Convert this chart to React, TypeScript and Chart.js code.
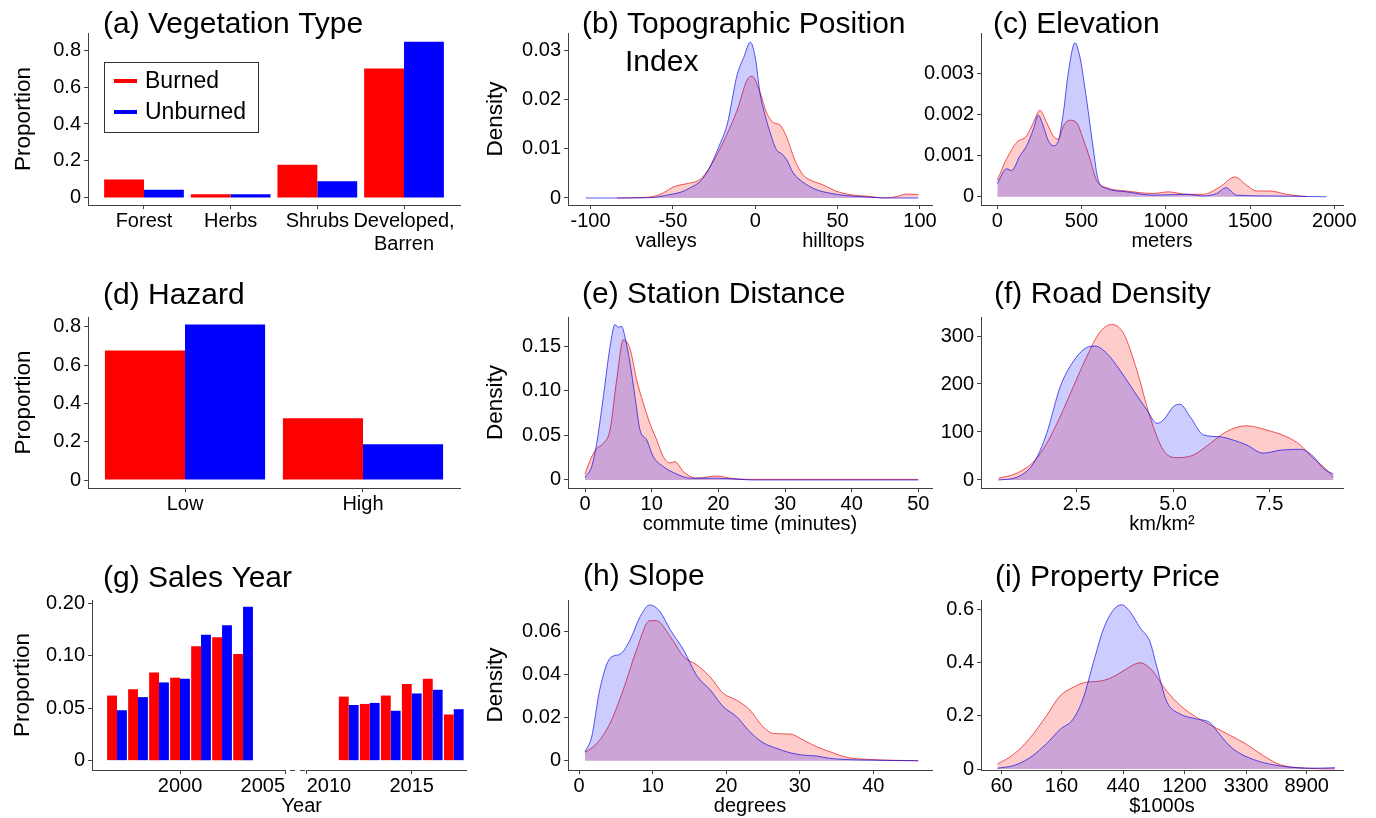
import React, { useEffect, useRef } from "react";
import { Chart, registerables } from "chart.js";

Chart.register(...registerables);

const FONT = "'Liberation Sans', Arial, Helvetica, sans-serif";
Chart.defaults.font.family = FONT;
Chart.defaults.color = "#000";

// ---------------- data ----------------
// (a) Vegetation type
const vegCategories: any[] = ["Forest", "Herbs", "Shrubs", ["Developed,", "Barren"]];
const vegBurned = [0.1, 0.02, 0.18, 0.7];
const vegUnburned = [0.045, 0.02, 0.09, 0.845];
const proportionTicks = [0, 0.2, 0.4, 0.6, 0.8];
const proportionTickLabels = ["0", "0.2", "0.4", "0.6", "0.8"];

// (b) Topographic position index
const tpiBurnedX = [-84, -70, -62, -56, -50, -45, -40, -33, -25, -17, -11, -5, -2, 3, 7, 11, 15, 19, 24, 29, 35, 41, 49, 57, 70, 78, 86, 92, 99];
const tpiBurnedY = [0, 0.0001, 0.0003, 0.001, 0.0022, 0.0027, 0.003, 0.0039, 0.0077, 0.0131, 0.0178, 0.0239, 0.0247, 0.0213, 0.0172, 0.0153, 0.0148, 0.0124, 0.0077, 0.0047, 0.0034, 0.0027, 0.0014, 0.0007, 0.0003, 0, 0.0003, 0.0008, 0.0007];
const tpiUnburnedX = [-103, -75, -62, -55, -50, -45, -40, -33, -28, -22, -17, -11, -7, -3, 0, 3, 5, 9, 13, 16, 19, 23, 29, 37, 45, 55, 68, 80, 99];
const tpiUnburnedY = [0, 0, 0.0001, 0.0005, 0.0008, 0.0012, 0.002, 0.0035, 0.006, 0.0105, 0.015, 0.025, 0.0285, 0.0316, 0.0285, 0.021, 0.018, 0.0133, 0.0097, 0.009, 0.0078, 0.0051, 0.0032, 0.0017, 0.001, 0.0005, 0.0002, 0, 0];
const tpiXTicks = [-100, -50, 0, 50, 100];
const tpiXTickLabels = ["-100", "-50", "0", "50", "100"];
const tpiYTicks = [0, 0.01, 0.02, 0.03];
const tpiYTickLabels = ["0", "0.01", "0.02", "0.03"];

// (c) Elevation
const elevBurnedX = [0, 55, 115, 174, 214, 253, 293, 332, 362, 392, 431, 471, 510, 550, 589, 649, 767, 926, 1015, 1124, 1222, 1321, 1410, 1480, 1539, 1618, 1717, 1836];
const elevBurnedY = [0.0004, 0.00092, 0.00132, 0.00148, 0.0018, 0.0021, 0.0018, 0.00148, 0.0014, 0.00172, 0.00186, 0.0018, 0.0014, 0.00092, 0.0004, 0.00022, 0.00014, 0.00008, 0.00012, 0.00006, 0.00006, 0.00024, 0.00048, 0.00028, 0.00014, 0.00014, 0.00006, 0];
const elevUnburnedX = [0, 55, 85, 135, 174, 214, 243, 273, 303, 332, 362, 392, 421, 461, 490, 530, 570, 599, 649, 767, 926, 1124, 1222, 1301, 1357, 1420, 1618, 1954];
const elevUnburnedY = [0.00032, 0.00068, 0.00064, 0.001, 0.00124, 0.00164, 0.00198, 0.00172, 0.00136, 0.00124, 0.00136, 0.00204, 0.003, 0.00374, 0.0034, 0.00236, 0.00116, 0.0004, 0.0002, 0.00012, 0.00004, 0.00006, 0.00002, 0.00008, 0.00022, 0.00004, 0.00002, 0];
const elevXTicks = [0, 500, 1000, 1500, 2000];
const elevXTickLabels = ["0", "500", "1000", "1500", "2000"];
const elevYTicks = [0, 0.001, 0.002, 0.003];
const elevYTickLabels = ["0", "0.001", "0.002", "0.003"];

// (d) Hazard
const hazardCategories = ["Low", "High"];
const hazardBurned = [0.677, 0.323];
const hazardUnburned = [0.813, 0.187];

// (e) Station distance
const stationBurnedX = [0, 1, 1.75, 2.75, 3.75, 4.75, 5.75, 6.75, 7.75, 8.75, 9.75, 10.75, 11.75, 12.75, 13.5, 14.75, 16.75, 19.75, 21.75, 24.25, 43.25, 50];
const stationBurnedY = [0.0067, 0.026, 0.035, 0.041, 0.056, 0.112, 0.157, 0.147, 0.112, 0.086, 0.063, 0.045, 0.026, 0.019, 0.0205, 0.0093, 0.002, 0.0045, 0.002, 0.0007, 0.0007, 0.0007];
const stationUnburnedX = [0, 1, 1.75, 2.75, 3.75, 4.5, 5, 5.5, 6, 6.75, 7.5, 8.25, 9.25, 10.25, 11.75, 13.75, 15.75, 19.75, 22.75, 25, 50];
const stationUnburnedY = [0.003, 0.015, 0.041, 0.093, 0.149, 0.174, 0.171, 0.172, 0.16, 0.131, 0.093, 0.056, 0.045, 0.026, 0.015, 0.0067, 0.002, 0.002, 0.001, 0, 0];
const stationXTicks = [0, 10, 20, 30, 40, 50];
const stationXTickLabels = ["0", "10", "20", "30", "40", "50"];
const stationYTicks = [0, 0.05, 0.1, 0.15];
const stationYTickLabels = ["0", "0.05", "0.10", "0.15"];

// (f) Road density
const roadBurnedX = [0.47, 0.94, 1.38, 1.72, 2.07, 2.41, 2.76, 3.11, 3.41, 3.71, 4.06, 4.4, 4.75, 5.1, 5.53, 5.96, 6.39, 6.91, 7.43, 7.95, 8.3, 8.64, 8.9, 9.16];
const roadBurnedY = [3.5, 14, 38, 76, 132, 194, 257, 309, 324, 306, 229, 132, 62, 46.5, 52, 76, 101, 113, 104, 90, 73, 45, 28, 5.5];
const roadUnburnedX = [0.47, 0.94, 1.38, 1.72, 2.07, 2.41, 2.76, 2.98, 3.28, 3.62, 3.97, 4.32, 4.58, 4.75, 5.01, 5.18, 5.44, 5.79, 6.22, 6.57, 6.91, 7.34, 7.78, 8.3, 8.64, 8.9, 9.16];
const roadUnburnedY = [0, 5.5, 35, 97, 194, 247, 276, 279, 264, 229, 187, 146, 118, 125, 153, 158, 132, 94, 90, 83, 73, 56, 62, 64, 49, 24, 12.5];
const roadXTicks = [2.5, 5, 7.5];
const roadXTickLabels = ["2.5", "5.0", "7.5"];
const roadYTicks = [0, 100, 200, 300];
const roadYTickLabels = ["0", "100", "200", "300"];

// (g) Sales year
const salesYears = [1997, 1998, 1999, 2000, 2001, 2002, 2003, 2012, 2013, 2014, 2015, 2016, 2017];
const salesBurned = [0.062, 0.068, 0.084, 0.079, 0.109, 0.1175, 0.1015, 0.061, 0.054, 0.062, 0.073, 0.078, 0.044];
const salesUnburned = [0.048, 0.0605, 0.0745, 0.078, 0.12, 0.129, 0.1465, 0.053, 0.055, 0.0475, 0.064, 0.0675, 0.049];
const salesXTickYears = [2000, 2005, 2010, 2015];
const salesXTickLabels = ["2000", "2005        ", "        2010", "2015"];
const salesYTicks = [0, 0.05, 0.1, 0.15];
const salesYTickLabels = ["0", "0.05", "0.10", "0.20"];

// (h) Slope
const slopeBurnedX = [0.8, 2.4, 4.2, 6, 7.8, 9.6, 10.5, 12.4, 14.2, 16, 17.8, 19.6, 21.4, 23.2, 25, 26.4, 28.7, 30.5, 32.3, 34.1, 36.4, 39.5, 46.1];
const slopeBurnedY = [0.0039, 0.008, 0.0174, 0.033, 0.0515, 0.0651, 0.0651, 0.0577, 0.0484, 0.0445, 0.039, 0.0313, 0.0282, 0.0236, 0.0158, 0.0127, 0.0124, 0.0096, 0.0065, 0.0042, 0.0016, 0.0006, 0];
const slopeUnburnedX = [0.8, 1.7, 2.8, 4.2, 5.6, 6.9, 8.3, 9.6, 11, 12.4, 14.2, 16, 17.8, 19.6, 21.4, 23.2, 25, 26.9, 28.7, 30.5, 32.3, 34.1, 39.5, 46.1];
const slopeUnburnedY = [0.0042, 0.011, 0.033, 0.0476, 0.0496, 0.056, 0.067, 0.0724, 0.0693, 0.0608, 0.0515, 0.0395, 0.033, 0.0251, 0.0205, 0.0135, 0.0084, 0.0057, 0.0037, 0.0026, 0.0022, 0.0011, 0.0003, 0];
const slopeXTicks = [0, 10, 20, 30, 40];
const slopeXTickLabels = ["0", "10", "20", "30", "40"];
const slopeYTicks = [0, 0.02, 0.04, 0.06];
const slopeYTickLabels = ["0", "0.02", "0.04", "0.06"];

// (i) Property price ($1000s, log axis)
const priceBurnedX = [56, 73, 95, 125, 156, 194, 239, 298, 351, 433, 510, 575, 683, 898, 1115, 1465, 1905, 2500, 3275, 4410, 5780, 8900, 14150];
const priceBurnedY = [0.0185, 0.055, 0.115, 0.2, 0.274, 0.307, 0.326, 0.33, 0.34, 0.366, 0.389, 0.399, 0.379, 0.293, 0.24, 0.194, 0.161, 0.128, 0.095, 0.049, 0.016, 0.003, 0];
const priceUnburnedX = [56, 73, 95, 125, 156, 194, 229, 270, 318, 374, 429, 492, 580, 683, 762, 898, 1115, 1465, 1825, 2150, 2675, 3710, 5150, 7550, 9900, 14150];
const priceUnburnedY = [0.003, 0.013, 0.042, 0.095, 0.148, 0.188, 0.267, 0.4, 0.525, 0.597, 0.617, 0.591, 0.531, 0.478, 0.386, 0.254, 0.207, 0.188, 0.174, 0.128, 0.075, 0.036, 0.016, 0.005, 0.003, 0.005];
const priceXTicks = [60, 160, 440, 1200, 3300, 8900];
const priceXTickLabels = ["60", "160", "440", "1200", "3300", "8900"];
const priceYTicks = [0, 0.2, 0.4, 0.6];
const priceYTickLabels = ["0", "0.2", "0.4", "0.6"];

// ---------------- styles ----------------
const RED = "#FF0000";
const BLUE = "#0000FF";
const RED_FILL = "rgba(255,0,0,0.2)";
const BLUE_FILL = "rgba(0,0,255,0.2)";
const RED_LINE = "rgba(230,0,0,0.65)";
const BLUE_LINE = "rgba(0,0,230,0.65)";
const AXIS = "#404040";
const TITLE_SIZE = 30;
const TICK_SIZE = 20;
const XTITLE_SIZE = 20;
const YTITLE_SIZE = 22.5;
const LEGEND_SIZE = 23;
const X_AXIS_H = 48;

// axis break for sales year: 2005 and 2010 sit next to each other
const BREAK_SHIFT = 3.97;
const yearPos = (yr: number) => (yr <= 2005 ? yr : yr - BREAK_SHIFT);

const COLS = [{ x: 0, w: 470 }, { x: 470, w: 470 }, { x: 915, w: 461 }];
const ROWS = [{ y: 0, h: 270 }, { y: 270, h: 280 }, { y: 550, h: 268 }];

function axis(o: any) {
  return {
    type: o.type || "linear",
    min: o.min,
    max: o.max,
    bounds: "data",
    offset: false,
    grid: { display: true, drawOnChartArea: false, drawTicks: true, tickLength: 4, color: AXIS, lineWidth: 1, offset: false },
    border: { display: o.border !== false, color: AXIS, width: 1 },
    afterBuildTicks: (s: any) => {
      s.ticks = o.ticks.map((v: number) => ({ value: v }));
    },
    afterFit: (s: any) => {
      if (o.horizontal) s.height = o.size;
      else s.width = o.size;
    },
    ticks: {
      autoSkip: false,
      maxRotation: 0,
      minRotation: 0,
      padding: o.horizontal ? 1.5 : 3,
      color: "#000",
      font: { size: TICK_SIZE, lineHeight: 1.12 },
      callback: (_v: any, i: number) => o.labels[i],
    },
    title: o.title
      ? {
          display: true,
          text: o.title,
          color: "#000",
          font: { size: o.horizontal ? XTITLE_SIZE : YTITLE_SIZE },
          padding: { top: o.titlePad || 0, bottom: 0 },
        }
      : { display: false },
  };
}

function baseOptions(box: any, area: any, scales: any) {
  return {
    responsive: false,
    maintainAspectRatio: false,
    animation: false,
    events: [],
    layout: {
      padding: {
        left: 0,
        top: area.t - box.y,
        right: box.x + box.w - area.r,
        bottom: box.y + box.h - area.b - X_AXIS_H,
      },
    },
    plugins: { legend: { display: false }, tooltip: { enabled: false }, title: { display: false } },
    scales,
  };
}

const bars = (label: string, xs: number[], ys: number[], color: string, pct: number) => ({
  label,
  data: xs.map((x, i) => ({ x, y: ys[i] })),
  backgroundColor: color,
  borderWidth: 0,
  categoryPercentage: pct,
  barPercentage: 1,
});

const dens = (label: string, xs: number[], ys: number[], line: string, fill: string, order: number) => ({
  label,
  data: xs.map((x, i) => ({ x, y: ys[i] })),
  borderColor: line,
  backgroundColor: fill,
  fill: "origin",
  borderWidth: 1,
  pointRadius: 0,
  cubicInterpolationMode: "monotone",
  order,
});

function decor(spec: any) {
  return {
    id: "decor",
    afterDraw(chart: any) {
      const { ctx, chartArea: a } = chart;
      ctx.save();
      ctx.fillStyle = "#000";
      ctx.textAlign = "left";
      ctx.textBaseline = "alphabetic";
      ctx.font = `${TITLE_SIZE}px ${FONT}`;
      spec.title.forEach((ln: any) => ctx.fillText(ln.text, a.left + ln.dx, a.top + ln.dy));
      if (spec.legend) {
        const L = spec.legend;
        ctx.strokeStyle = "#333";
        ctx.lineWidth = 1;
        ctx.strokeRect(Math.round(a.left + L.dx) + 0.5, Math.round(a.top + L.dy) + 0.5, L.w, L.h);
        ctx.font = `${LEGEND_SIZE}px ${FONT}`;
        ctx.textBaseline = "middle";
        chart.data.datasets.forEach((ds: any, i: number) => {
          const yy = a.top + L.rows[i];
          ctx.strokeStyle = ds.backgroundColor;
          ctx.lineWidth = 4;
          ctx.beginPath();
          ctx.moveTo(a.left + L.lineX0, yy);
          ctx.lineTo(a.left + L.lineX1, yy);
          ctx.stroke();
          ctx.fillStyle = "#000";
          ctx.fillText(ds.label, a.left + L.textX, yy + 1);
        });
      }
      if (spec.axisBreak) {
        const xs = chart.scales.x;
        const y = Math.round(a.bottom) + 0.5;
        const p1 = xs.getPixelForValue(spec.axisBreak[0]);
        const p2 = xs.getPixelForValue(spec.axisBreak[1]);
        ctx.strokeStyle = AXIS;
        ctx.lineWidth = 1;
        ctx.beginPath();
        ctx.moveTo(a.left, y);
        ctx.lineTo(p1, y);
        ctx.moveTo(p2, y);
        ctx.lineTo(a.right, y);
        ctx.stroke();
        ctx.setLineDash([5, 5]);
        ctx.lineDashOffset = 5;
        ctx.beginPath();
        ctx.moveTo(p1, y);
        ctx.lineTo(p2, y);
        ctx.stroke();
      }
      ctx.restore();
    },
  };
}

const vegPos = vegCategories.map((_, i) => i + 1);
const hazardPos = hazardCategories.map((_, i) => i + 1);
const salesPos = salesYears.map(yearPos);

const panels: any[] = [
  {
    id: "a", col: 0, row: 0, area: { l: 88, t: 33, r: 460, b: 205 },
    title: [{ text: "(a) Vegetation Type", dx: 15, dy: 0 }],
    legend: { dx: 16, dy: 29, w: 154, h: 70, rows: [48, 79], lineX0: 26, lineX1: 49, textX: 57 },
    build: (box: any, area: any) => ({
      type: "bar",
      data: { datasets: [bars("Burned", vegPos, vegBurned, RED, 0.92), bars("Unburned", vegPos, vegUnburned, BLUE, 0.92)] },
      options: baseOptions(box, area, {
        x: axis({ min: 0.354, max: 4.646, ticks: vegPos, labels: vegCategories, horizontal: true, size: X_AXIS_H }),
        y: axis({ min: -0.038, max: 0.892, ticks: proportionTicks, labels: proportionTickLabels, size: area.l - box.x, title: "Proportion", titlePad: 10.5 }),
      }),
    }),
  },
  {
    id: "b", col: 1, row: 0, area: { l: 568, t: 33, r: 932, b: 205 },
    title: [{ text: "(b) Topographic Position", dx: 14, dy: 0 }, { text: "Index", dx: 57, dy: 38 }],
    build: (box: any, area: any) => ({
      type: "line",
      data: { datasets: [dens("Burned", tpiBurnedX, tpiBurnedY, RED_LINE, RED_FILL, 1), dens("Unburned", tpiUnburnedX, tpiUnburnedY, BLUE_LINE, BLUE_FILL, 0)] },
      options: baseOptions(box, area, {
        x: axis({ min: -113.7, max: 107.3, ticks: tpiXTicks, labels: tpiXTickLabels, horizontal: true, size: X_AXIS_H, title: "valleys" + " ".repeat(19) + "hilltops" }),
        y: axis({ min: -0.00142, max: 0.03345, ticks: tpiYTicks, labels: tpiYTickLabels, size: area.l - box.x, title: "Density", titlePad: 12 }),
      }),
    }),
  },
  {
    id: "c", col: 2, row: 0, area: { l: 981, t: 33, r: 1343, b: 205 },
    title: [{ text: "(c) Elevation", dx: 12, dy: 0 }],
    build: (box: any, area: any) => ({
      type: "line",
      data: { datasets: [dens("Burned", elevBurnedX, elevBurnedY, RED_LINE, RED_FILL, 1), dens("Unburned", elevUnburnedX, elevUnburnedY, BLUE_LINE, BLUE_FILL, 0)] },
      options: baseOptions(box, area, {
        x: axis({ min: -96.7, max: 2051.6, ticks: elevXTicks, labels: elevXTickLabels, horizontal: true, size: X_AXIS_H, title: "meters" }),
        y: axis({ min: -0.0002, max: 0.00398, ticks: elevYTicks, labels: elevYTickLabels, size: area.l - box.x }),
      }),
    }),
  },
  {
    id: "d", col: 0, row: 1, area: { l: 88, t: 317, r: 460, b: 488 },
    title: [{ text: "(d) Hazard", dx: 15, dy: -13 }],
    build: (box: any, area: any) => ({
      type: "bar",
      data: { datasets: [bars("Burned", hazardPos, hazardBurned, RED, 0.9), bars("Unburned", hazardPos, hazardUnburned, BLUE, 0.9)] },
      options: baseOptions(box, area, {
        x: axis({ min: 0.455, max: 2.545, ticks: hazardPos, labels: hazardCategories, horizontal: true, size: X_AXIS_H }),
        y: axis({ min: -0.0418, max: 0.852, ticks: proportionTicks, labels: proportionTickLabels, size: area.l - box.x, title: "Proportion", titlePad: 10.5 }),
      }),
    }),
  },
  {
    id: "e", col: 1, row: 1, area: { l: 568, t: 317, r: 932, b: 488 },
    title: [{ text: "(e) Station Distance", dx: 14, dy: -14 }],
    build: (box: any, area: any) => ({
      type: "line",
      data: { datasets: [dens("Burned", stationBurnedX, stationBurnedY, RED_LINE, RED_FILL, 1), dens("Unburned", stationUnburnedX, stationUnburnedY, BLUE_LINE, BLUE_FILL, 0)] },
      options: baseOptions(box, area, {
        x: axis({ min: -2.55, max: 52.05, ticks: stationXTicks, labels: stationXTickLabels, horizontal: true, size: X_AXIS_H, title: "commute time (minutes)" }),
        y: axis({ min: -0.009, max: 0.1825, ticks: stationYTicks, labels: stationYTickLabels, size: area.l - box.x, title: "Density", titlePad: 12 }),
      }),
    }),
  },
  {
    id: "f", col: 2, row: 1, area: { l: 981, t: 317, r: 1343, b: 488 },
    title: [{ text: "(f) Road Density", dx: 13, dy: -14 }],
    build: (box: any, area: any) => ({
      type: "line",
      data: { datasets: [dens("Burned", roadBurnedX, roadBurnedY, RED_LINE, RED_FILL, 1), dens("Unburned", roadUnburnedX, roadUnburnedY, BLUE_LINE, BLUE_FILL, 0)] },
      options: baseOptions(box, area, {
        x: axis({ min: 0.016, max: 9.41, ticks: roadXTicks, labels: roadXTickLabels, horizontal: true, size: X_AXIS_H, title: "km/km²" }),
        y: axis({ min: -16.7, max: 339.6, ticks: roadYTicks, labels: roadYTickLabels, size: area.l - box.x }),
      }),
    }),
  },
  {
    id: "g", col: 0, row: 2, area: { l: 92, t: 600, r: 467, b: 770 },
    title: [{ text: "(g) Sales Year", dx: 11, dy: -13 }],
    axisBreak: [yearPos(2005), yearPos(2010)],
    build: (box: any, area: any) => ({
      type: "bar",
      data: { datasets: [bars("Burned", salesPos, salesBurned, RED, 0.94), bars("Unburned", salesPos, salesUnburned, BLUE, 0.94)] },
      options: baseOptions(box, area, {
        x: axis({ min: 1995.81, max: yearPos(2017.63), ticks: salesXTickYears.map(yearPos), labels: salesXTickLabels, horizontal: true, size: X_AXIS_H, title: " ".repeat(8) + "Year", border: false }),
        y: axis({ min: -0.0089, max: 0.153, ticks: salesYTicks, labels: salesYTickLabels, size: area.l - box.x, title: "Proportion", titlePad: 9.5 }),
      }),
    }),
  },
  {
    id: "h", col: 1, row: 2, area: { l: 568, t: 600, r: 932, b: 770 },
    title: [{ text: "(h) Slope", dx: 15, dy: -15 }],
    build: (box: any, area: any) => ({
      type: "line",
      data: { datasets: [dens("Burned", slopeBurnedX, slopeBurnedY, RED_LINE, RED_FILL, 1), dens("Unburned", slopeUnburnedX, slopeUnburnedY, BLUE_LINE, BLUE_FILL, 0)] },
      options: baseOptions(box, area, {
        x: axis({ min: -1.51, max: 47.97, ticks: slopeXTicks, labels: slopeXTickLabels, horizontal: true, size: X_AXIS_H, title: "degrees" }),
        y: axis({ min: -0.0043, max: 0.0747, ticks: slopeYTicks, labels: slopeYTickLabels, size: area.l - box.x, title: "Density", titlePad: 12 }),
      }),
    }),
  },
  {
    id: "i", col: 2, row: 2, area: { l: 981, t: 600, r: 1343, b: 770 },
    title: [{ text: "(i) Property Price", dx: 14, dy: -14 }],
    build: (box: any, area: any) => ({
      type: "line",
      data: { datasets: [dens("Burned", priceBurnedX, priceBurnedY, RED_LINE, RED_FILL, 1), dens("Unburned", priceUnburnedX, priceUnburnedY, BLUE_LINE, BLUE_FILL, 0)] },
      options: baseOptions(box, area, {
        x: axis({ type: "logarithmic", min: 42.8, max: 16150, ticks: priceXTicks, labels: priceXTickLabels, horizontal: true, size: X_AXIS_H, title: "$1000s" }),
        y: axis({ min: -0.0037, max: 0.635, ticks: priceYTicks, labels: priceYTickLabels, size: area.l - box.x }),
      }),
    }),
  },
];

function Panel({ spec }: { spec: any }) {
  const ref = useRef<HTMLCanvasElement>(null);
  const box = { x: COLS[spec.col].x, y: ROWS[spec.row].y, w: COLS[spec.col].w, h: ROWS[spec.row].h };
  useEffect(() => {
    const cfg: any = spec.build(box, spec.area);
    cfg.plugins = [decor(spec)];
    const chart = new Chart(ref.current as HTMLCanvasElement, cfg);
    return () => chart.destroy();
  }, []);
  return (
    <canvas
      ref={ref}
      width={box.w}
      height={box.h}
      style={{ position: "absolute", left: box.x, top: box.y, width: box.w + "px", height: box.h + "px" }}
    />
  );
}

export default function App() {
  return (
    <div style={{ position: "absolute", left: 0, top: 0, width: 1376, height: 818, background: "#fff", overflow: "hidden" }}>
      {panels.map((p) => (
        <Panel key={p.id} spec={p} />
      ))}
    </div>
  );
}
